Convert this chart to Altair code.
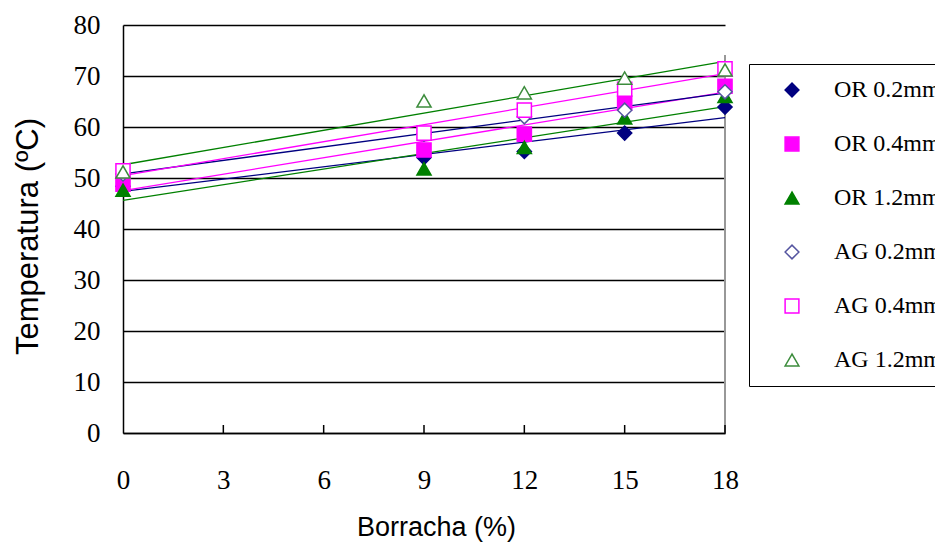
import altair as alt
import pandas as pd

# ---- data ----
borracha = [0, 9, 12, 15, 18]
series_names = ["OR 0.2mm", "OR 0.4mm", "OR 1.2mm", "AG 0.2mm", "AG 0.4mm", "AG 1.2mm"]
or02 = [48.4, 54.0, 55.2, 58.8, 63.9]
or04 = [48.8, 55.5, 58.6, 64.7, 68.0]
or12 = [47.6, 51.8, 56.0, 61.8, 66.0]
ag02 = [50.8, 58.6, 62.0, 63.3, 66.9]
ag04 = [51.4, 58.8, 63.3, 67.4, 71.4]
ag12 = [51.2, 65.1, 66.7, 69.6, 71.2]
x_ticks = [0, 3, 6, 9, 12, 15, 18]
y_ticks = [0, 10, 20, 30, 40, 50, 60, 70, 80]

# ---- styles ----
stroke_colors = ["#000080", "#FF00FF", "#008000", "#5555A0", "#FF00FF", "#3C8C3C"]
fill_colors = ["#000080", "#FF00FF", "#008000", "white", "white", "white"]
shapes = ["diamond", "square", "triangle-up", "diamond", "square", "triangle-up"]
line_colors = ["#000080", "#FF00FF", "#008000", "#000080", "#FF00FF", "#008000"]

values = [or02, or04, or12, ag02, ag04, ag12]
rows = []
for name, lc, vals in zip(series_names, line_colors, values):
    for xv, yv in zip(borracha, vals):
        rows.append({"x": xv, "y": yv, "series": name, "line_color": lc})
df = pd.DataFrame(rows)
ticks_df = pd.DataFrame({"t": x_ticks[1:]})

x_scale = alt.Scale(domain=[0, 18], nice=False, zero=False)
y_scale = alt.Scale(domain=[0, 80], nice=False)

x_axis = alt.Axis(
    values=x_ticks, ticks=False, grid=False, domainColor="black", domainWidth=1.5,
    labelFlush=False,
    labelFont="Liberation Serif", labelFontSize=27, labelColor="black", labelPadding=34,
    title="Borracha (%)", titleFont="Liberation Sans", titleFontSize=27,
    titleFontWeight="normal", titleColor="black", titleX=313, titleY=94,
    titleBaseline="middle", titleAlign="center",
)
y_axis = alt.Axis(
    values=y_ticks, ticks=False, grid=True, gridColor="black", gridWidth=1.3,
    gridOpacity=1, domainColor="black", domainWidth=1.5, labelFlush=False,
    labelFont="Liberation Serif", labelFontSize=27, labelColor="black", labelPadding=23,
    title="Temperatura (ºC)", titleFont="Liberation Sans", titleFontSize=31,
    titleFontWeight="normal", titleColor="black", titleX=-95, titleY=211,
    titleBaseline="middle", titleAlign="center",
)

legend = alt.Legend(title=None)

base = alt.Chart(df)

points = base.mark_point(size=200, strokeWidth=1.5, opacity=1, fillOpacity=1).encode(
    x=alt.X("x:Q", scale=x_scale, axis=x_axis),
    y=alt.Y("y:Q", scale=y_scale, axis=y_axis),
    shape=alt.Shape("series:N", scale=alt.Scale(domain=series_names, range=shapes), legend=legend),
    stroke=alt.Stroke("series:N", scale=alt.Scale(domain=series_names, range=stroke_colors), legend=legend),
    fill=alt.Fill("series:N", scale=alt.Scale(domain=series_names, range=fill_colors), legend=legend),
)

lines = base.transform_regression(
    "x", "y", groupby=["series", "line_color"]
).mark_line(strokeWidth=1.3).encode(
    x=alt.X("x:Q", scale=x_scale),
    y=alt.Y("y:Q", scale=y_scale),
    color=alt.Color("line_color:N", scale=None),
    detail="series:N",
)

inner_ticks = alt.Chart(ticks_df).mark_rule(color="black", strokeWidth=1.5).encode(
    x=alt.X("t:Q", scale=x_scale),
    y=alt.value(408),
    y2=alt.value(400),
)

right_line = alt.Chart(ticks_df).mark_rule(color="#999999", strokeWidth=1.5).encode(
    x=alt.datum(18),
    y=alt.value(30),
    y2=alt.value(408),
)

chart = alt.layer(right_line, lines, points, inner_ticks).properties(
    width=602,
    height=408,
    autosize=alt.AutoSizeParams(type="none"),
    padding={"left": 123, "top": 25, "right": 210, "bottom": 109},
    background="white",
).configure_view(stroke=None).configure_legend(
    orient="none", legendX=626, legendY=39,
    strokeColor="black", fillColor="white", padding=14,
    symbolOffset=17, labelOffset=30, rowPadding=30, symbolSize=190,
    symbolStrokeWidth=1.5, labelFont="Liberation Serif", labelFontSize=24,
    labelColor="black", labelLimit=400,
)

chart.save("out.html", embed_options={"renderer": "svg", "actions": False})
